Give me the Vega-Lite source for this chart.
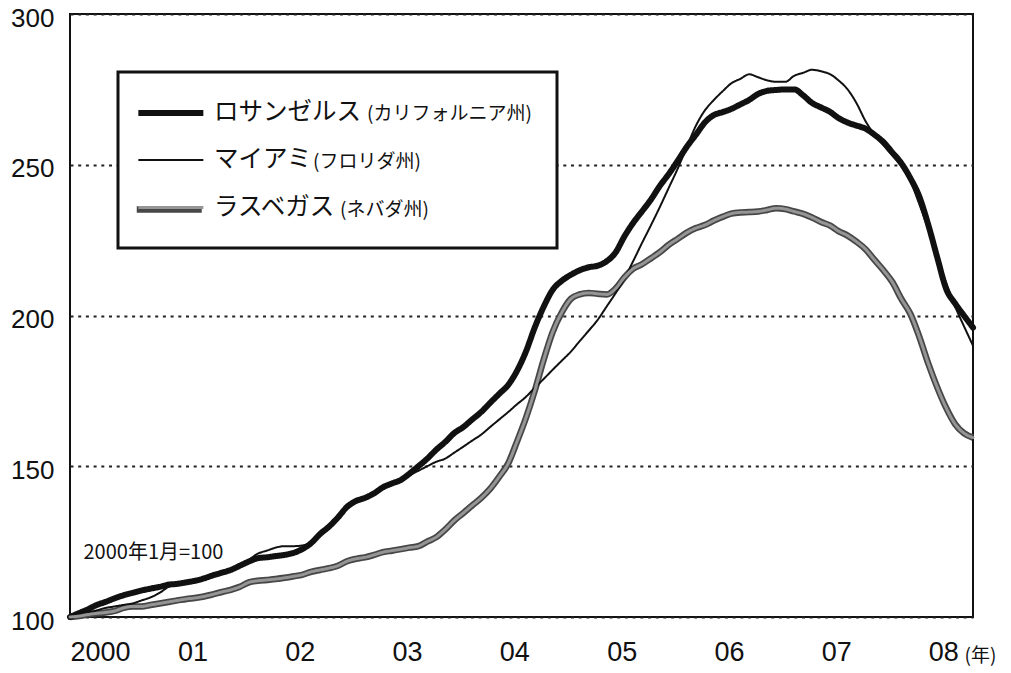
{
  "$schema": "https://vega.github.io/schema/vega-lite/v6.json",
  "width": 903,
  "height": 603,
  "autosize": {"type": "none"},
  "padding": {"left": 70, "top": 14, "right": 38, "bottom": 56},
  "background": "white",
  "config": {
    "view": {"stroke": "#111", "strokeWidth": 2},
    "font": "Liberation Sans"
  },
  "datasets": {
    "prices": [
      {"month": "2000-01-01", "ロサンゼルス": 100, "マイアミ": 100, "ラスベガス": 100},
      {"month": "2000-02-01", "ロサンゼルス": 101.3, "マイアミ": 100.8, "ラスベガス": 100.3},
      {"month": "2000-03-01", "ロサンゼルス": 102.5, "マイアミ": 101.5, "ラスベガス": 100.8},
      {"month": "2000-04-01", "ロサンゼルス": 104, "マイアミ": 102.2, "ラスベガス": 101.2},
      {"month": "2000-05-01", "ロサンゼルス": 105, "マイアミ": 103, "ラスベガス": 101.5},
      {"month": "2000-06-01", "ロサンゼルス": 106.2, "マイアミ": 103.5, "ラスベガス": 102},
      {"month": "2000-07-01", "ロサンゼルス": 107.2, "マイアミ": 104, "ラスベガス": 103},
      {"month": "2000-08-01", "ロサンゼルス": 108, "マイアミ": 104.5, "ラスベガス": 103.5},
      {"month": "2000-09-01", "ロサンゼルス": 108.8, "マイアミ": 105.5, "ラスベガス": 103.5},
      {"month": "2000-10-01", "ロサンゼルス": 109.4, "マイアミ": 106.5, "ラスベガス": 104},
      {"month": "2000-11-01", "ロサンゼルス": 110, "マイアミ": 108, "ラスベガス": 104.5},
      {"month": "2000-12-01", "ロサンゼルス": 110.7, "マイアミ": 110, "ラスベガス": 105},
      {"month": "2001-01-01", "ロサンゼルス": 111, "マイアミ": 111.2, "ラスベガス": 105.5},
      {"month": "2001-02-01", "ロサンゼルス": 111.5, "マイアミ": 111.8, "ラスベガス": 106},
      {"month": "2001-03-01", "ロサンゼルス": 112, "マイアミ": 112.3, "ラスベガス": 106.3},
      {"month": "2001-04-01", "ロサンゼルス": 112.8, "マイアミ": 113, "ラスベガス": 106.8},
      {"month": "2001-05-01", "ロサンゼルス": 113.8, "マイアミ": 114, "ラスベガス": 107.5},
      {"month": "2001-06-01", "ロサンゼルス": 114.7, "マイアミ": 115, "ラスベガス": 108.3},
      {"month": "2001-07-01", "ロサンゼルス": 115.6, "マイアミ": 116, "ラスベガス": 109},
      {"month": "2001-08-01", "ロサンゼルス": 117, "マイアミ": 117.5, "ラスベガス": 110},
      {"month": "2001-09-01", "ロサンゼルス": 118.4, "マイアミ": 119, "ラスベガス": 111.5},
      {"month": "2001-10-01", "ロサンゼルス": 119.5, "マイアミ": 121, "ラスベガス": 112},
      {"month": "2001-11-01", "ロサンゼルス": 119.8, "マイアミ": 122, "ラスベガス": 112.3},
      {"month": "2001-12-01", "ロサンゼルス": 120.2, "マイアミ": 123, "ラスベガス": 112.6},
      {"month": "2002-01-01", "ロサンゼルス": 120.6, "マイアミ": 123.5, "ラスベガス": 113},
      {"month": "2002-02-01", "ロサンゼルス": 121.3, "マイアミ": 123.5, "ラスベガス": 113.5},
      {"month": "2002-03-01", "ロサンゼルス": 122.5, "マイアミ": 123.7, "ラスベガス": 114},
      {"month": "2002-04-01", "ロサンゼルス": 124.5, "マイアミ": 124.7, "ラスベガス": 115},
      {"month": "2002-05-01", "ロサンゼルス": 127.5, "マイアミ": 127.5, "ラスベガス": 115.6},
      {"month": "2002-06-01", "ロサンゼルス": 130, "マイアミ": 130.5, "ラスベガス": 116.2},
      {"month": "2002-07-01", "ロサンゼルス": 133, "マイアミ": 133.5, "ラスベガス": 117},
      {"month": "2002-08-01", "ロサンゼルス": 136.5, "マイアミ": 136, "ラスベガス": 118.5},
      {"month": "2002-09-01", "ロサンゼルス": 138.5, "マイアミ": 138, "ラスベガス": 119.3},
      {"month": "2002-10-01", "ロサンゼルス": 139.5, "マイアミ": 139.5, "ラスベガス": 119.8},
      {"month": "2002-11-01", "ロサンゼルス": 141, "マイアミ": 141.5, "ラスベガス": 120.6},
      {"month": "2002-12-01", "ロサンゼルス": 143, "マイアミ": 143, "ラスベガス": 121.5},
      {"month": "2003-01-01", "ロサンゼルス": 144.3, "マイアミ": 144.5, "ラスベガス": 122},
      {"month": "2003-02-01", "ロサンゼルス": 145.5, "マイアミ": 145.5, "ラスベガス": 122.5},
      {"month": "2003-03-01", "ロサンゼルス": 147.5, "マイアミ": 147, "ラスベガス": 123},
      {"month": "2003-04-01", "ロサンゼルス": 150, "マイアミ": 148.5, "ラスベガス": 123.5},
      {"month": "2003-05-01", "ロサンゼルス": 152.5, "マイアミ": 150, "ラスベガス": 125},
      {"month": "2003-06-01", "ロサンゼルス": 155.5, "マイアミ": 151.5, "ラスベガス": 126.5},
      {"month": "2003-07-01", "ロサンゼルス": 158, "マイアミ": 152.5, "ラスベガス": 129},
      {"month": "2003-08-01", "ロサンゼルス": 161, "マイアミ": 154.5, "ラスベガス": 132},
      {"month": "2003-09-01", "ロサンゼルス": 163, "マイアミ": 156.5, "ラスベガス": 134.5},
      {"month": "2003-10-01", "ロサンゼルス": 165.5, "マイアミ": 158.5, "ラスベガス": 137},
      {"month": "2003-11-01", "ロサンゼルス": 168, "マイアミ": 160.5, "ラスベガス": 139.5},
      {"month": "2003-12-01", "ロサンゼルス": 171, "マイアミ": 163, "ラスベガス": 142.5},
      {"month": "2004-01-01", "ロサンゼルス": 174, "マイアミ": 165.5, "ラスベガス": 146.5},
      {"month": "2004-02-01", "ロサンゼルス": 177, "マイアミ": 168, "ラスベガス": 151},
      {"month": "2004-03-01", "ロサンゼルス": 181.5, "マイアミ": 170.5, "ラスベガス": 158},
      {"month": "2004-04-01", "ロサンゼルス": 188, "マイアミ": 173, "ラスベガス": 166},
      {"month": "2004-05-01", "ロサンゼルス": 196, "マイアミ": 176, "ラスベガス": 175},
      {"month": "2004-06-01", "ロサンゼルス": 203, "マイアミ": 179, "ラスベガス": 185.5},
      {"month": "2004-07-01", "ロサンゼルス": 208.5, "マイアミ": 182, "ラスベガス": 194.5},
      {"month": "2004-08-01", "ロサンゼルス": 211.5, "マイアミ": 185, "ラスベガス": 201},
      {"month": "2004-09-01", "ロサンゼルス": 213.5, "マイアミ": 188, "ラスベガス": 205.5},
      {"month": "2004-10-01", "ロサンゼルス": 215, "マイアミ": 191.5, "ラスベガス": 207},
      {"month": "2004-11-01", "ロサンゼルス": 216, "マイアミ": 195, "ラスベガス": 207.5},
      {"month": "2004-12-01", "ロサンゼルス": 216.5, "マイアミ": 198.5, "ラスベガス": 207.2},
      {"month": "2005-01-01", "ロサンゼルス": 218, "マイアミ": 203, "ラスベガス": 207},
      {"month": "2005-02-01", "ロサンゼルス": 221, "マイアミ": 207.5, "ラスベガス": 209},
      {"month": "2005-03-01", "ロサンゼルス": 226, "マイアミ": 212, "ラスベガス": 212.5},
      {"month": "2005-04-01", "ロサンゼルス": 230.7, "マイアミ": 218, "ラスベガス": 215.5},
      {"month": "2005-05-01", "ロサンゼルス": 234.5, "マイアミ": 224, "ラスベガス": 217},
      {"month": "2005-06-01", "ロサンゼルス": 238.5, "マイアミ": 230, "ラスベガス": 219},
      {"month": "2005-07-01", "ロサンゼルス": 243, "マイアミ": 236, "ラスベガス": 221},
      {"month": "2005-08-01", "ロサンゼルス": 247, "マイアミ": 242.5, "ラスベガス": 223.5},
      {"month": "2005-09-01", "ロサンゼルス": 251.5, "マイアミ": 249, "ラスベガス": 225.5},
      {"month": "2005-10-01", "ロサンゼルス": 256, "マイアミ": 256, "ラスベガス": 227.5},
      {"month": "2005-11-01", "ロサンゼルス": 260, "マイアミ": 263, "ラスベガス": 229},
      {"month": "2005-12-01", "ロサンゼルス": 264, "マイアミ": 268, "ラスベガス": 230},
      {"month": "2006-01-01", "ロサンゼルス": 266.5, "マイアミ": 271.5, "ラスベガス": 231.5},
      {"month": "2006-02-01", "ロサンゼルス": 267.5, "マイアミ": 274.5, "ラスベガス": 232.8},
      {"month": "2006-03-01", "ロサンゼルス": 268.5, "マイアミ": 277, "ラスベガス": 233.8},
      {"month": "2006-04-01", "ロサンゼルス": 270, "マイアミ": 278.5, "ラスベガス": 234.2},
      {"month": "2006-05-01", "ロサンゼルス": 271.5, "マイアミ": 280, "ラスベガス": 234.3},
      {"month": "2006-06-01", "ロサンゼルス": 273.5, "マイアミ": 279, "ラスベガス": 234.5},
      {"month": "2006-07-01", "ロサンゼルス": 274.5, "マイアミ": 278, "ラスベガス": 235},
      {"month": "2006-08-01", "ロサンゼルス": 274.8, "マイアミ": 277.5, "ラスベガス": 235.6},
      {"month": "2006-09-01", "ロサンゼルス": 275, "マイアミ": 277.5, "ラスベガス": 235.3},
      {"month": "2006-10-01", "ロサンゼルス": 275, "マイアミ": 279.5, "ラスベガス": 234.5},
      {"month": "2006-11-01", "ロサンゼルス": 273, "マイアミ": 280.5, "ラスベガス": 233.7},
      {"month": "2006-12-01", "ロサンゼルス": 270.5, "マイアミ": 281.5, "ラスベガス": 232.5},
      {"month": "2007-01-01", "ロサンゼルス": 269, "マイアミ": 281, "ラスベガス": 231},
      {"month": "2007-02-01", "ロサンゼルス": 267.5, "マイアミ": 280, "ラスベガス": 229.8},
      {"month": "2007-03-01", "ロサンゼルス": 265.5, "マイアミ": 278, "ラスベガス": 228},
      {"month": "2007-04-01", "ロサンゼルス": 264, "マイアミ": 275, "ラスベガス": 226.5},
      {"month": "2007-05-01", "ロサンゼルス": 263, "マイアミ": 270.5, "ラスベガス": 224.5},
      {"month": "2007-06-01", "ロサンゼルス": 262, "マイアミ": 264.5, "ラスベガス": 222},
      {"month": "2007-07-01", "ロサンゼルス": 260, "マイアミ": 260, "ラスベガス": 218.5},
      {"month": "2007-08-01", "ロサンゼルス": 257.5, "マイアミ": 256.5, "ラスベガス": 215},
      {"month": "2007-09-01", "ロサンゼルス": 254, "マイアミ": 253, "ラスベガス": 211},
      {"month": "2007-10-01", "ロサンゼルス": 250.5, "マイアミ": 249.5, "ラスベガス": 205.5},
      {"month": "2007-11-01", "ロサンゼルス": 245.5, "マイアミ": 244.5, "ラスベガス": 200.5},
      {"month": "2007-12-01", "ロサンゼルス": 239.5, "マイアミ": 237, "ラスベガス": 193},
      {"month": "2008-01-01", "ロサンゼルス": 230, "マイアミ": 228.5, "ラスベガス": 184},
      {"month": "2008-02-01", "ロサンゼルス": 219, "マイアミ": 219, "ラスベガス": 176},
      {"month": "2008-03-01", "ロサンゼルス": 209, "マイアミ": 211, "ラスベガス": 169.5},
      {"month": "2008-04-01", "ロサンゼルス": 204, "マイアミ": 203, "ラスベガス": 164},
      {"month": "2008-05-01", "ロサンゼルス": 200, "マイアミ": 196.5, "ラスベガス": 161},
      {"month": "2008-06-01", "ロサンゼルス": 196, "マイアミ": 190, "ラスベガス": 159.5}
    ],
    "states": [
      {"city": "ロサンゼルス", "state": "カリフォルニア州"},
      {"city": "マイアミ", "state": "フロリダ州"},
      {"city": "ラスベガス", "state": "ネバダ州"}
    ]
  },
  "data": {"name": "prices"},
  "transform": [
    {"fold": ["ロサンゼルス", "マイアミ", "ラスベガス"], "as": ["city", "price_index"]},
    {"lookup": "city", "from": {"data": {"name": "states"}, "key": "city", "fields": ["state"]}}
  ],
  "encoding": {
    "x": {
      "field": "month",
      "type": "temporal",
      "scale": {"domain": [{"year": 2000, "month": 1, "date": 1}, {"year": 2008, "month": 6, "date": 1}]},
      "axis": {
        "values": [
          {"year": 2000, "month": 1, "date": 1}, {"year": 2001, "month": 1, "date": 1},
          {"year": 2002, "month": 1, "date": 1}, {"year": 2003, "month": 1, "date": 1},
          {"year": 2004, "month": 1, "date": 1}, {"year": 2005, "month": 1, "date": 1},
          {"year": 2006, "month": 1, "date": 1}, {"year": 2007, "month": 1, "date": 1},
          {"year": 2008, "month": 1, "date": 1}
        ],
        "labelExpr": "year(datum.value) === 2000 ? '2000' : timeFormat(datum.value, '%y')",
        "labelAlign": "left",
        "labelBaseline": "top",
        "labelPadding": 22,
        "labelFontSize": 27,
        "labelColor": "#111",
        "labelFlush": false,
        "labelOverlap": false,
        "ticks": false,
        "domain": false,
        "grid": false,
        "title": "(年)",
        "titleFont": "Noto Sans CJK JP",
        "titleFontSize": 19,
        "titleFontWeight": "normal",
        "titleColor": "#111",
        "titleX": 910,
        "titleY": 38,
        "titleAlign": "center",
        "titleBaseline": "middle"
      }
    },
    "y": {
      "field": "price_index",
      "type": "quantitative",
      "scale": {"domain": [100, 300], "nice": false, "zero": false},
      "axis": {
        "values": [100, 150, 200, 250, 300],
        "labelFontSize": 26,
        "labelColor": "#111",
        "labelPadding": 16,
        "labelOffset": 4,
        "labelFlush": false,
        "labelOverlap": false,
        "ticks": false,
        "domain": false,
        "grid": true,
        "gridDash": [3, 4.7],
        "gridWidth": 2,
        "gridColor": "#222",
        "title": "2000年1月=100",
        "titleAngle": 0,
        "titleFont": "Liberation Sans Narrow, Noto Sans CJK JP",
        "titleFontSize": 20,
        "titleFontWeight": "normal",
        "titleColor": "#111",
        "titleX": 13,
        "titleY": 538,
        "titleAlign": "left",
        "titleBaseline": "middle"
      }
    }
  },
  "layer": [
    {
      "transform": [{"filter": "datum.city === 'ラスベガス'"}],
      "mark": {"type": "line", "stroke": "#474747", "strokeWidth": 6.5, "interpolate": "monotone", "strokeJoin": "round"}
    },
    {
      "mark": {"type": "line", "interpolate": "monotone", "strokeJoin": "round", "strokeCap": "round"},
      "encoding": {
        "color": {
          "field": "city",
          "type": "nominal",
          "scale": {"domain": ["ロサンゼルス", "マイアミ", "ラスベガス"], "range": ["#111111", "#111111", "#959595"]},
          "legend": {
            "orient": "none", "legendX": 92, "legendY": 83, "title": null,
            "symbolType": "M-3.05,0H1.95", "symbolSize": 676, "symbolFillColor": "transparent",
            "labelFont": "Noto Sans CJK JP", "labelFontSize": 24.5, "labelColor": "#111", "labelLimit": 300,
            "labelOffset": 20, "rowPadding": 21, "padding": 0, "zindex": 2
          }
        },
        "strokeWidth": {
          "field": "city",
          "type": "nominal",
          "scale": {"type": "ordinal", "domain": ["ロサンゼルス", "マイアミ", "ラスベガス"], "range": [6, 2, 3]},
          "legend": {
            "orient": "none", "legendX": 92, "legendY": 83, "title": null,
            "symbolType": "M-3.05,0H1.95", "symbolSize": 676, "symbolFillColor": "transparent",
            "labelFont": "Noto Sans CJK JP", "labelFontSize": 24.5, "labelColor": "#111", "labelLimit": 300,
            "labelOffset": 20, "rowPadding": 21, "padding": 0, "zindex": 2
          }
        },
        "strokeDash": {
          "field": "state",
          "type": "nominal",
          "scale": {"domain": ["カリフォルニア州", "フロリダ州", "ネバダ州"], "range": [[1, 0], [1, 0], [1, 0]]},
          "legend": {
            "orient": "none", "legendX": 48, "legendY": 58, "title": null,
            "symbolType": "M-1.75,0H3.25", "symbolSize": 676, "symbolStrokeColor": "#474747", "symbolStrokeWidth": 6.5,
            "labelFont": "Noto Sans CJK JP", "labelFontSize": 19, "labelColor": "#111", "labelLimit": 300,
            "labelExpr": "'(' + datum.label + ')'",
            "labelOffset": 137, "rowPadding": 21, "padding": 25,
            "strokeColor": "#111", "fillColor": "white", "zindex": 1,
            "encode": {
              "symbols": {"update": {"opacity": {"signal": "datum.value === 'ネバダ州' ? 1 : 0"}}},
              "labels": {"update": {"dx": {"signal": "datum.value === 'カリフォルニア州' ? 54 : datum.value === 'ネバダ州' ? 27 : 0"}}},
              "legend": {"update": {"strokeWidth": {"value": 3}}}
            }
          }
        }
      }
    }
  ]
}
